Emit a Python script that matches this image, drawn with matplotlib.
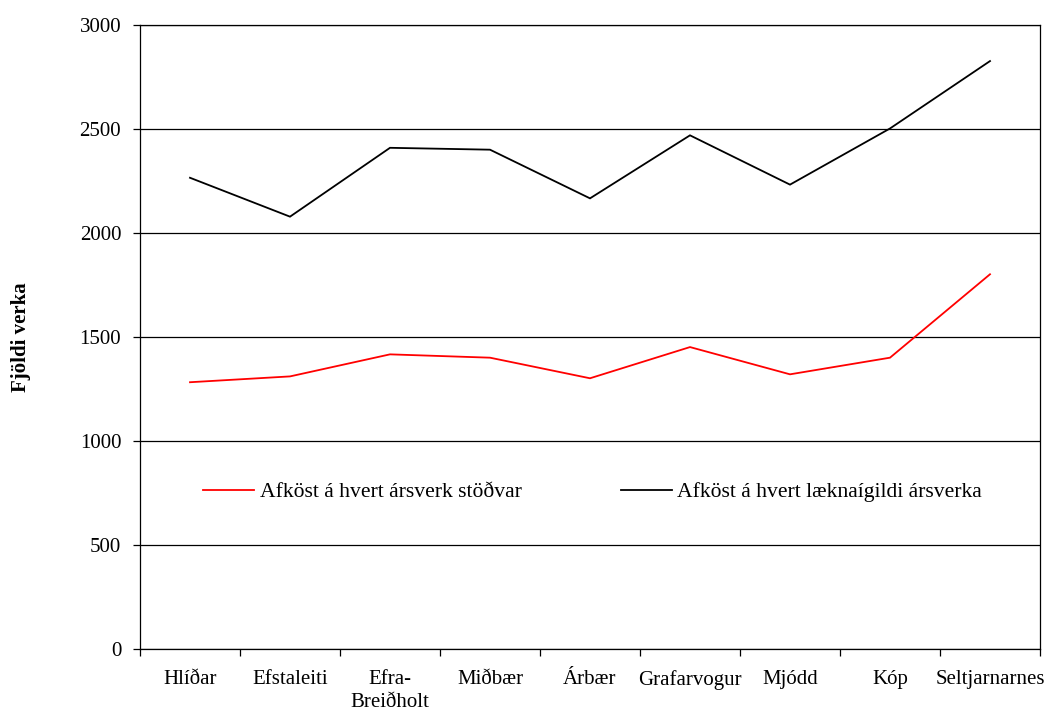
import matplotlib
matplotlib.use("Agg")
import matplotlib.pyplot as plt
import numpy as np

# Health-centre districts and output per full-time position
districts = ["Hlíðar", "Efstaleiti", "Efra-\nBreiðholt", "Miðbær", "Árbær",
             "Grafarvogur", "Mjódd", "Kóp", "Seltjarnarnes"]
per_station_fte = [1284, 1312, 1418, 1402, 1303, 1453, 1322, 1402, 1803]
per_physician_fte = [2267, 2080, 2411, 2402, 2168, 2471, 2234, 2504, 2828]
y_ticks = [0, 500, 1000, 1500, 2000, 2500, 3000]

label_station = "Afköst á hvert ársverk stöðvar"
label_physician = "Afköst á hvert læknaígildi ársverka"
y_label = "Fjöldi verka"

plt.rcParams["font.family"] = ["Liberation Serif", "DejaVu Serif"]
FS = 15

fig = plt.figure(figsize=(10.5, 7.13), dpi=100)
W, H = 1050, 713
ax = fig.add_axes([140 / W, 1 - 649.3 / H, 900 / W, 624 / H])

x = np.arange(len(districts))
ax.plot(x, per_station_fte, color="#ff0000", lw=1.3, label=label_station,
        solid_joinstyle="miter")
ax.plot(x, per_physician_fte, color="black", lw=1.3, label=label_physician,
        solid_joinstyle="miter")

ax.set_xlim(-0.5, len(districts) - 0.5)
ax.set_ylim(0, 3000)
ax.set_yticks(y_ticks)
ax.set_yticklabels([str(v) for v in y_ticks], fontsize=FS)
ax.yaxis.grid(True, color="black", lw=0.9)
ax.set_axisbelow(True)

# category labels centred between boundary ticks
ax.set_xticks(np.arange(len(districts) + 1) - 0.5)
ax.set_xticklabels([])
ax.set_xticks(x, minor=True)
ax.set_xticklabels(districts, minor=True, fontsize=FS, linespacing=1.25)
ax.tick_params(axis="x", which="minor", length=0, pad=15)
ax.tick_params(axis="x", which="major", length=5, width=0.9, direction="out")
ax.tick_params(axis="y", length=5, width=0.9, direction="out", pad=8.5)

for s in ax.spines.values():
    s.set_color("black")
    s.set_linewidth(0.9)

ax.set_ylabel(y_label, fontsize=FS, fontweight="bold", labelpad=35)

leg = ax.legend(loc="center", bbox_to_anchor=(0.503, 0.252), ncol=2,
                frameon=False, fontsize=15.6, handlelength=2.35,
                handletextpad=0.25, columnspacing=4.6)

fig.savefig("out.png", dpi=100, facecolor="white")
